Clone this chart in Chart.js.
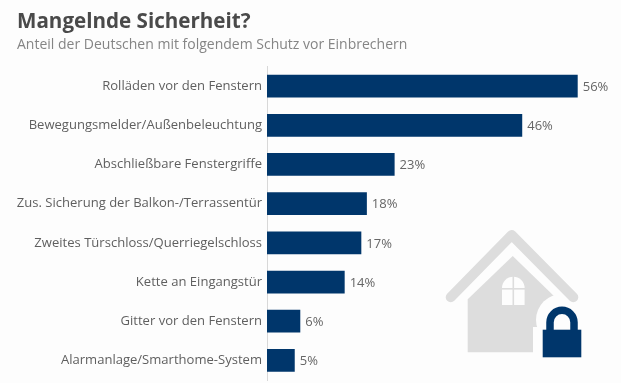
<!DOCTYPE html>
<html><head><meta charset="utf-8">
<script src="https://cdn.jsdelivr.net/npm/chart.js@4"></script>
<style>html,body{margin:0;padding:0;background:#fdfdfd}#w{position:absolute;left:0;top:0;width:621px;height:383px}</style>
</head><body><div id="w"><canvas id="c" width="621" height="383"></canvas></div>
<script>
const categories = ["Rolläden vor den Fenstern","Bewegungsmelder/Außenbeleuchtung","Abschließbare Fenstergriffe","Zus. Sicherung der Balkon-/Terrassentür","Zweites Türschloss/Querriegelschloss","Kette an Eingangstür","Gitter vor den Fenstern","Alarmanlage/Smarthome-System"];
const values = [56,46,23,18,17,14,6,5];
const titleText = "Mangelnde Sicherheit?";
const subtitleText = "Anteil der Deutschen mit folgendem Schutz vor Einbrechern";
const FONT = "'Open Sans'";
const NAVY = "#00366b", BG = "#fdfdfd", GREY = "#dddddd";

const valueLabels = {
  id:"valueLabels",
  afterDatasetsDraw(chart){
    const {ctx} = chart, meta = chart.getDatasetMeta(0);
    ctx.save();
    ctx.font = "13px "+FONT; ctx.fillStyle = "#666666";
    ctx.textAlign = "left"; ctx.textBaseline = "middle";
    meta.data.forEach((b,i)=>ctx.fillText(values[i]+"%", b.x+5, b.y+1));
    ctx.restore();
  }
};
const houseIcon = {
  id:"houseIcon",
  beforeDatasetsDraw(chart){
    const {ctx} = chart;
    ctx.save();
    // body
    ctx.fillStyle = GREY;
    ctx.beginPath();
    ctx.moveTo(467.7,299.3); ctx.lineTo(512.7,256); ctx.lineTo(556,298); ctx.lineTo(556,352.3); ctx.lineTo(467.7,352.3); ctx.closePath(); ctx.fill();
    // halo round the lock
    ctx.fillStyle = BG;
    ctx.beginPath(); ctx.arc(562,320,26,0,Math.PI*2); ctx.fill();
    ctx.fillRect(533,327,60,40);
    // roof
    ctx.strokeStyle = GREY; ctx.lineWidth = 10; ctx.lineCap = "round"; ctx.lineJoin = "round";
    ctx.beginPath(); ctx.moveTo(450.7,297.3); ctx.lineTo(511.7,235); ctx.lineTo(573.3,297.3); ctx.stroke();
    // window
    ctx.fillStyle = BG;
    ctx.beginPath(); ctx.moveTo(502,305); ctx.lineTo(502,288); ctx.arc(513.3,288,11.3,Math.PI,0); ctx.lineTo(524.6,305); ctx.closePath(); ctx.fill();
    ctx.fillStyle = GREY;
    ctx.fillRect(512.5,276,1.6,30); ctx.fillRect(501,288,24,1.6);
    // lock
    ctx.strokeStyle = NAVY; ctx.lineWidth = 7.5; ctx.lineCap = "butt";
    ctx.beginPath(); ctx.moveTo(550,331); ctx.lineTo(550,322.3); ctx.arc(562,322.3,12,Math.PI,0); ctx.lineTo(574,331); ctx.stroke();
    ctx.fillStyle = NAVY; ctx.fillRect(542.7,329.7,38.6,27.6);
    ctx.restore();
  }
};

new Chart(document.getElementById("c"),{
  type:"bar",
  data:{labels:categories,datasets:[{data:values,backgroundColor:NAVY,borderWidth:0,categoryPercentage:1,barPercentage:0.58}]},
  plugins:[houseIcon,valueLabels],
  options:{
    responsive:false,animation:false,indexAxis:"y",
    layout:{padding:{left:17,right:10,top:10,bottom:3}},
    plugins:{
      legend:{display:false},tooltip:{enabled:false},
      title:{display:true,text:titleText,align:"start",color:"#4a4a4a",font:{family:FONT,size:20.6,weight:"bold",lineHeight:1.2},padding:{top:0,bottom:1.5}},
      subtitle:{display:true,text:subtitleText,align:"start",color:"#858585",font:{family:FONT,size:14,weight:"normal",lineHeight:1.2},padding:{top:0,bottom:13.5}}
    },
    scales:{
      x:{display:false,min:0,max:62},
      y:{
        afterFit(s){s.width=250;s.paddingTop=0;s.paddingBottom=0;},
        grid:{display:false,drawTicks:false},
        border:{display:true,color:"#d8d8d8",width:1},
        ticks:{color:"#5f5f5f",padding:5,font:{family:FONT,size:13.05},autoSkip:false}
      }
    }
  }
});
</script></body></html>
